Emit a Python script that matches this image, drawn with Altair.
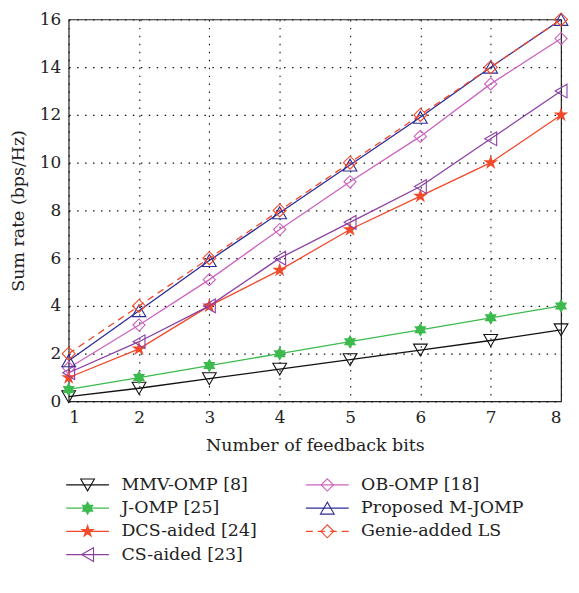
import altair as alt
import pandas as pd

bits = [1, 2, 3, 4, 5, 6, 7, 8]
series_names = ["MMV-OMP [8]", "J-OMP [25]", "DCS-aided [24]", "CS-aided [23]",
                "OB-OMP [18]", "Proposed M-JOMP", "Genie-added LS"]
mmv = [0.2, 0.55, 0.95, 1.35, 1.75, 2.15, 2.55, 3.0]
jomp = [0.5, 1.0, 1.5, 2.0, 2.5, 3.0, 3.5, 4.0]
dcs = [1.0, 2.2, 4.0, 5.5, 7.2, 8.6, 10.0, 12.0]
cs = [1.2, 2.5, 4.0, 6.0, 7.5, 9.0, 11.0, 13.0]
ob = [1.4, 3.2, 5.1, 7.2, 9.2, 11.1, 13.3, 15.2]
prop = [1.7, 3.8, 5.9, 7.9, 9.9, 11.9, 14.0, 16.0]
genie = [2.0, 4.0, 6.0, 8.0, 10.0, 12.0, 14.0, 16.0]
values = [mmv, jomp, dcs, cs, ob, prop, genie]

colors = ["#111111", "#3dba4e", "#f2492a", "#8b3fa3", "#cc62bf", "#2c2c96", "#f2492a"]
hexagram = ("M0,-1L0.2887,-0.5L0.866,-0.5L0.577,0L0.866,0.5L0.2887,0.5L0,1"
            "L-0.2887,0.5L-0.866,0.5L-0.577,0L-0.866,-0.5L-0.2887,-0.5Z")
star5 = ("M0,-1L0.2245,-0.309L0.951,-0.309L0.363,0.118L0.588,0.809L0,0.382"
         "L-0.588,0.809L-0.363,0.118L-0.951,-0.309L-0.2245,-0.309Z")
shapes = ["triangle-down", hexagram, star5, "triangle-left", "diamond", "triangle-up", "diamond"]
filled = [False, True, True, False, False, False, False]
sizes = [190, 200, 240, 190, 150, 190, 170]
dashed = [False, False, False, False, False, False, True]
leg_col = [0, 0, 0, 0, 1, 1, 1]
leg_row = [0, 1, 2, 3, 0, 1, 2]

rows = []
for i, name in enumerate(series_names):
    for b, v in zip(bits, values[i]):
        rows.append({"series": name, "bits": b, "rate": v})
df = pd.DataFrame(rows)

FONT = "DejaVu Serif"
xenc = alt.X("bits:Q", scale=alt.Scale(domain=[1, 8], nice=False),
             axis=alt.Axis(title="Number of feedback bits", values=bits))
yenc = alt.Y("rate:Q", scale=alt.Scale(domain=[0, 16], nice=False),
             axis=alt.Axis(title="Sum rate (bps/Hz)", values=list(range(0, 17, 2))))
layers = []
for i, name in enumerate(series_names):
    d = df[df.series == name]
    base = alt.Chart(d).encode(x=xenc, y=yenc)
    lkw = dict(color=colors[i], strokeWidth=1.3)
    if dashed[i]:
        lkw["strokeDash"] = [7, 5]
    layers.append(base.mark_line(**lkw))
    layers.append(base.mark_point(shape=shapes[i], size=sizes[i], color=colors[i], opacity=1,
                                  strokeWidth=1.1, filled=filled[i]))

plot = alt.layer(*layers).properties(width=495, height=384)

leg_df = pd.DataFrame({"series": series_names, "col": leg_col, "row": leg_row})
lx = alt.X("col:Q", scale=alt.Scale(domain=[0, 1], range=[19, 260]), axis=None)
ly = alt.Y("row:Q", scale=alt.Scale(domain=[0, 3], range=[26, 96]), axis=None)
leg_layers = []
for i, name in enumerate(series_names):
    d = leg_df[leg_df.series == name]
    b = alt.Chart(d).encode(x=lx, y=ly)
    lkw = dict(shape="M-1,0L1,0", size=1850, color=colors[i], strokeWidth=1.3, opacity=1)
    if dashed[i]:
        lkw["strokeDash"] = [7, 5]
    leg_layers.append(b.mark_point(**lkw))
    leg_layers.append(b.mark_point(shape=shapes[i], size=sizes[i], color=colors[i], opacity=1,
                                   strokeWidth=1.1, filled=filled[i]))
    leg_layers.append(b.mark_text(text=name, align="left", dx=34, fontSize=17.5, font=FONT,
                                  color="#222222", baseline="middle"))
legend = alt.layer(*leg_layers).properties(width=495, height=98, view=alt.ViewConfig(stroke=None))

chart = alt.vconcat(plot, legend, spacing=4).properties(
    padding={"left": 0, "top": 0, "right": 0, "bottom": 0}
).configure_view(stroke="#222222", strokeWidth=1.2).configure_axis(
    labelFont=FONT, titleFont=FONT, labelFontSize=17, titleFontSize=17.5,
    labelColor="#222222", titleColor="#222222", titleFontWeight="normal",
    grid=True, gridColor="#111111", gridDash=[1.5, 6.5], gridWidth=1.1,
    domain=False, ticks=False,
).configure_axisX(titlePadding=11, labelPadding=8).configure_axisY(titlePadding=12, labelPadding=8)

chart.save("out.html", embed_options={"renderer": "svg", "actions": False})
